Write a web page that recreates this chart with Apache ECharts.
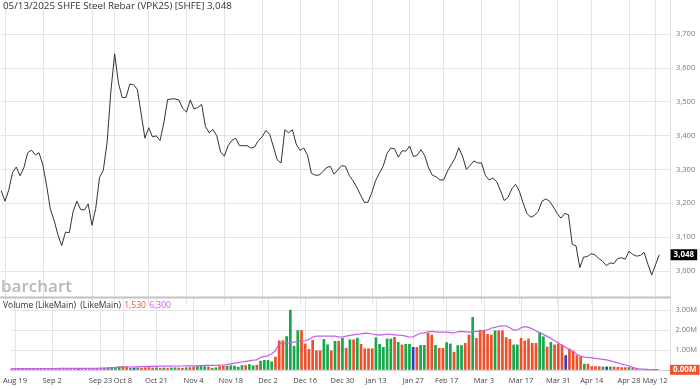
<!DOCTYPE html>
<html><head><meta charset="utf-8">
<script src="https://cdn.jsdelivr.net/npm/echarts@6/dist/echarts.min.js"></script>
<style>html,body{margin:0;padding:0;background:#fff}#c{width:700px;height:389px}</style>
</head><body><div id="c"></div>
<script>
// trading days (Aug 16 2024 .. May 13 2025)
const dates = [
'Aug 16','Aug 19','Aug 20','Aug 21','Aug 22','Aug 23','Aug 26','Aug 27','Aug 28','Aug 29','Aug 30',
'Sep 2','Sep 3','Sep 4','Sep 5','Sep 6','Sep 9','Sep 10','Sep 11','Sep 12','Sep 13','Sep 18','Sep 19','Sep 20','Sep 23','Sep 24','Sep 25','Sep 26','Sep 27','Sep 30',
'Oct 8','Oct 9','Oct 10','Oct 11','Oct 14','Oct 15','Oct 16','Oct 17','Oct 18','Oct 21','Oct 22','Oct 23','Oct 24','Oct 25','Oct 28','Oct 29','Oct 30','Oct 31',
'Nov 1','Nov 4','Nov 5','Nov 6','Nov 7','Nov 8','Nov 11','Nov 12','Nov 13','Nov 14','Nov 15','Nov 18','Nov 19','Nov 20','Nov 21','Nov 22','Nov 25','Nov 26','Nov 27','Nov 28','Nov 29',
'Dec 2','Dec 3','Dec 4','Dec 5','Dec 6','Dec 9','Dec 10','Dec 11','Dec 12','Dec 13','Dec 16','Dec 17','Dec 18','Dec 19','Dec 20','Dec 23','Dec 24','Dec 25','Dec 26','Dec 27','Dec 30','Dec 31',
'Jan 2','Jan 3','Jan 6','Jan 7','Jan 8','Jan 9','Jan 10','Jan 13','Jan 14','Jan 15','Jan 16','Jan 17','Jan 20','Jan 21','Jan 22','Jan 23','Jan 24','Jan 27',
'Feb 5','Feb 6','Feb 7','Feb 10','Feb 11','Feb 12','Feb 13','Feb 14','Feb 17','Feb 18','Feb 19','Feb 20','Feb 21','Feb 24','Feb 25','Feb 26','Feb 27','Feb 28',
'Mar 3','Mar 4','Mar 5','Mar 6','Mar 7','Mar 10','Mar 11','Mar 12','Mar 13','Mar 14','Mar 17','Mar 18','Mar 19','Mar 20','Mar 21','Mar 24','Mar 25','Mar 26','Mar 27','Mar 28','Mar 31',
'Apr 1','Apr 2','Apr 3','Apr 7','Apr 8','Apr 9','Apr 10','Apr 11','Apr 14','Apr 15','Apr 16','Apr 17','Apr 18','Apr 21','Apr 22','Apr 23','Apr 24','Apr 25','Apr 28','Apr 29','Apr 30',
'May 6','May 7','May 8','May 9','May 12','May 13'
];
const xLabels = ['Aug 19','Sep 2','Sep 23','Oct 8','Oct 21','Nov 4','Nov 18','Dec 2','Dec 16','Dec 30','Jan 13','Jan 27','Feb 17','Mar 3','Mar 17','Mar 31','Apr 14','Apr 28','May 12'];
const closePrice = [
3237,3206,3239,3291,3307,3281,3305,3349,3357,3343,3349,
3314,3253,3182,3149,3107,3075,3115,3113,3175,3206,3182,3180,3198,3135,3185,3276,3297,3380,3531,
3641,3555,3512,3512,3552,3550,3536,3465,3392,3423,3396,3399,3385,3437,3506,3508,3508,3505,
3480,3469,3505,3478,3483,3492,3427,3408,3418,3399,3352,3339,3370,3386,3392,3370,3370,3370,3363,3366,3385,
3396,3415,3403,3366,3328,3319,3417,3408,3417,3375,3356,3363,3342,3289,3283,3283,3292,3305,3309,3286,3298,3311,
3309,3283,3267,3248,3225,3203,3203,3232,3267,3289,3309,3347,3363,3361,3336,3355,3354,3369,
3338,3342,3358,3340,3305,3283,3278,3269,3269,3295,3314,3333,3364,3338,3300,3312,3325,3319,
3319,3283,3269,3274,3264,3238,3208,3217,3242,3256,3236,3201,3170,3159,3164,3176,3206,3213,3206,3189,3170,
3156,3170,3166,3079,3074,3010,3041,3043,3051,3048,3037,3029,3016,3024,3022,3037,3039,3035,3058,3049,3044,
3046,3055,3020,2988,3018,3048
];
// volume in millions of contracts
const volumeM = [
0.05,0.06,0.06,0.07,0.06,0.06,0.05,0.07,0.06,0.05,0.05,
0.06,0.07,0.08,0.07,0.08,0.08,0.07,0.06,0.08,0.07,
0.06,0.06,0.06,0.08,0.10,0.13,0.14,0.15,0.17,
0.19,0.17,0.10,0.10,0.11,0.10,0.12,0.13,0.11,0.12,0.10,
0.11,0.10,0.11,0.12,0.11,0.10,0.12,0.13,0.15,0.18,
0.20,0.18,0.16,0.10,0.12,0.18,0.20,0.20,
0.22,0.20,0.15,0.23,0.23,0.28,0.22,0.25,
0.45,0.49,0.49,0.42,0.65,1.47,1.47,1.68,3.00,1.20,1.98,1.98,1.31,
1.04,1.49,0.97,0.97,1.54,1.27,0.97,1.44,1.44,1.59,1.09,1.52,1.52,1.60,1.29,1.07,1.07,1.07,1.62,1.29,
1.14,1.56,1.56,1.64,1.39,1.26,1.29,1.29,1.14,1.14,1.24,1.24,1.84,1.76,1.24,1.09,1.09,1.38,1.31,0.90,
1.23,1.23,1.34,1.76,2.64,1.59,2.00,2.00,1.79,1.76,1.97,1.97,1.97,1.63,1.54,1.26,1.26,1.59,1.46,1.56,
1.34,1.34,1.89,1.67,1.16,1.39,1.26,1.31,1.26,0.73,1.06,0.96,0.73,0.66,0.30,0.30,0.18,0.18,0.17,0.16,
0.16,0.16,0.16,0.15,0.13,0.13,0.13,0.10,0.06,0.03,0.02,0.015,0.01,0.005,0.00153
];
const volumeMA = [
0.06,0.06,0.06,0.06,0.06,0.06,0.06,0.06,0.065,0.065,0.065,
0.065,0.065,0.07,0.07,0.07,0.07,0.07,0.07,0.075,0.075,
0.075,0.075,0.075,0.08,0.08,0.09,0.10,0.11,0.12,
0.13,0.14,0.14,0.15,0.15,0.16,0.16,0.17,0.17,0.17,0.18,
0.18,0.18,0.18,0.19,0.19,0.19,0.20,0.20,0.20,0.20,
0.21,0.22,0.22,0.22,0.22,0.23,0.24,0.26,
0.30,0.33,0.36,0.39,0.42,0.45,0.48,0.50,
0.62,0.66,0.70,0.80,0.95,1.30,1.32,1.33,1.35,1.38,1.42,1.44,1.45,
1.52,1.64,1.68,1.68,1.68,1.68,1.68,1.68,1.63,1.65,1.68,1.72,1.75,1.78,1.80,1.83,1.82,1.79,1.76,1.73,
1.76,1.79,1.77,1.75,1.73,1.72,1.68,1.64,1.64,1.75,1.83,1.85,1.90,1.92,1.90,1.88,1.88,1.88,1.86,1.84,
1.90,1.92,1.90,1.88,1.90,1.92,1.92,1.94,2.00,2.08,2.12,2.18,2.20,2.19,2.10,1.98,1.99,2.10,2.16,2.12,
2.05,1.95,1.85,1.77,1.67,1.57,1.45,1.35,1.22,1.12,1.00,0.90,0.78,0.68,0.63,0.62,0.60,0.57,0.55,0.52,
0.50,0.45,0.40,0.35,0.28,0.24,0.20,0.12,0.07,0.04,0.03,0.02,0.015,0.01,0.0063
];
// u = up (green), d = down (red), n = unchanged (blue)
const volumeDir = ('dduuuduuud uddddddunu udduduuuuu ddunuddddu duduuddudd uuuduudduu uuuduuduuu uddduuuudd ' +
  'dddduududu dududddduu uuududuund uuddudduud uudduddddd udddduuddd dduududddn dddduddddu nudddduddd dddud').replace(/ /g,'');

const FONT = '"Open Sans", "DejaVu Sans", sans-serif';
const cats = dates.concat(['', '', '']);
const labelSet = new Set(xLabels);
const showAt = (idx) => labelSet.has(cats[idx]);
const dirColor = { u: '#17a84b', d: '#f14f2a', n: '#2b40c2' };
const lastPrice = closePrice[closePrice.length - 1];
const lastVol = volumeM[volumeM.length - 1];
const lastMA = volumeMA[volumeMA.length - 1];
const fmt = (v) => v.toLocaleString('en-US');
const clear = 'rgba(0,0,0,0)';

const chart = echarts.init(document.getElementById('c'), null, { renderer: 'canvas' });
chart.setOption({
  animation: false,
  backgroundColor: '#fff',
  title: {
    text: '05/13/2025 SHFE Steel Rebar (VPK25) [SHFE] ' + fmt(lastPrice),
    left: 3, top: 1.5, padding: 0,
    textStyle: { fontSize: 9.8, fontWeight: 'normal', color: '#333', fontFamily: FONT }
  },
  grid: [
    { left: 1.2, right: 29.4, top: -13.7, height: 318.6 },
    { left: 1.2, right: 29.4, top: 298, height: 71.8 }
  ],
  xAxis: [
    { type: 'category', gridIndex: 0, data: cats, boundaryGap: false,
      axisLine: { show: false }, axisTick: { show: false }, axisLabel: { show: false },
      splitLine: { show: true, interval: showAt, lineStyle: { color: '#e4e4e4', width: 1 } } },
    { type: 'category', gridIndex: 1, data: cats, boundaryGap: false,
      axisLine: { show: true, lineStyle: { color: '#d0d0d0' } }, axisTick: { show: false },
      axisLabel: { show: true, interval: showAt, fontSize: 7.5, color: '#444', margin: 7, fontFamily: FONT },
      splitLine: { show: true, interval: showAt, lineStyle: { color: '#e4e4e4', width: 1 } } }
  ],
  yAxis: [
    { type: 'value', gridIndex: 0, position: 'right', min: 2900, max: 3800, interval: 100,
      axisLine: { show: true, lineStyle: { color: '#dedede' } }, axisTick: { show: false },
      axisLabel: { fontSize: 7.5, color: '#777', margin: 5.5, fontFamily: FONT, formatter: fmt,
        showMinLabel: false, showMaxLabel: false },
      splitLine: { show: true, showMinLine: false, showMaxLine: false, lineStyle: { color: '#e4e4e4', width: 1 } } },
    { type: 'value', gridIndex: 1, position: 'right', min: 0, max: 3.59, interval: 1,
      axisLine: { show: true, lineStyle: { color: '#dedede' } }, axisTick: { show: false },
      axisLabel: { fontSize: 7.5, color: '#777', margin: 5.5, fontFamily: FONT,
        formatter: (v) => v.toFixed(2) + 'M', showMinLabel: false, showMaxLabel: false },
      splitLine: { show: true, showMaxLine: false, lineStyle: { color: '#e4e4e4', width: 1 } } }
  ],
  series: [
    { type: 'line', xAxisIndex: 0, yAxisIndex: 0, data: closePrice, symbol: 'none',
      lineStyle: { color: '#333', width: 1 }, z: 3,
      markLine: { silent: true, symbol: 'none', lineStyle: { color: clear, width: 1 },
        label: { show: true, position: 'end', distance: 0, formatter: () => fmt(lastPrice), backgroundColor: '#000',
          color: '#fff', fontWeight: 'bold', fontSize: 8, fontFamily: FONT, padding: [2, 3, 1, 3], opacity: 1 },
        data: [{ yAxis: lastPrice }] } },
    { type: 'bar', xAxisIndex: 1, yAxisIndex: 1, barWidth: 2.7,
      data: volumeM.map((v, i) => ({ value: v, itemStyle: { color: dirColor[volumeDir[i]] } })),
      markLine: { silent: true, symbol: 'none', lineStyle: { color: clear, width: 1 },
        label: { show: true, position: 'end', distance: 0, formatter: () => lastVol.toFixed(2) + 'M', backgroundColor: '#f1502b',
          color: '#fff', fontWeight: 'bold', fontSize: 8, fontFamily: FONT, padding: [1, 3, 1, 3], opacity: 1 },
        data: [{ yAxis: lastVol }] } },
    { type: 'line', xAxisIndex: 1, yAxisIndex: 1, data: volumeMA, symbol: 'none',
      lineStyle: { color: '#c75de6', width: 1.2 }, z: 4 }
  ],
  graphic: [
    { type: 'line', z: 100, shape: { x1: 0, y1: 297.5, x2: 670.6, y2: 297.5 },
      style: { stroke: '#c2c2c2', lineWidth: 2 } },
    { type: 'text', z: 100, x: 1, y: 287,
      style: { text: 'barchart', fill: '#b8b8b8', font: '600 17px ' + FONT, verticalAlign: 'middle' } },
    { type: 'text', z: 100, x: 3, y: 306,
      style: { text: '{a|Volume (LikeMain)  (LikeMain)} {b|' + fmt(Math.round(lastVol * 1e6)) + '} {c|' + fmt(Math.round(lastMA * 1e6)) + '}',
        verticalAlign: 'middle',
        rich: { a: { fill: '#333', fontSize: 8.5, fontFamily: FONT },
                b: { fill: '#f1502b', fontSize: 8.5, fontFamily: FONT },
                c: { fill: '#c75de6', fontSize: 8.5, fontFamily: FONT } } } }
  ]
});
</script></body></html>
